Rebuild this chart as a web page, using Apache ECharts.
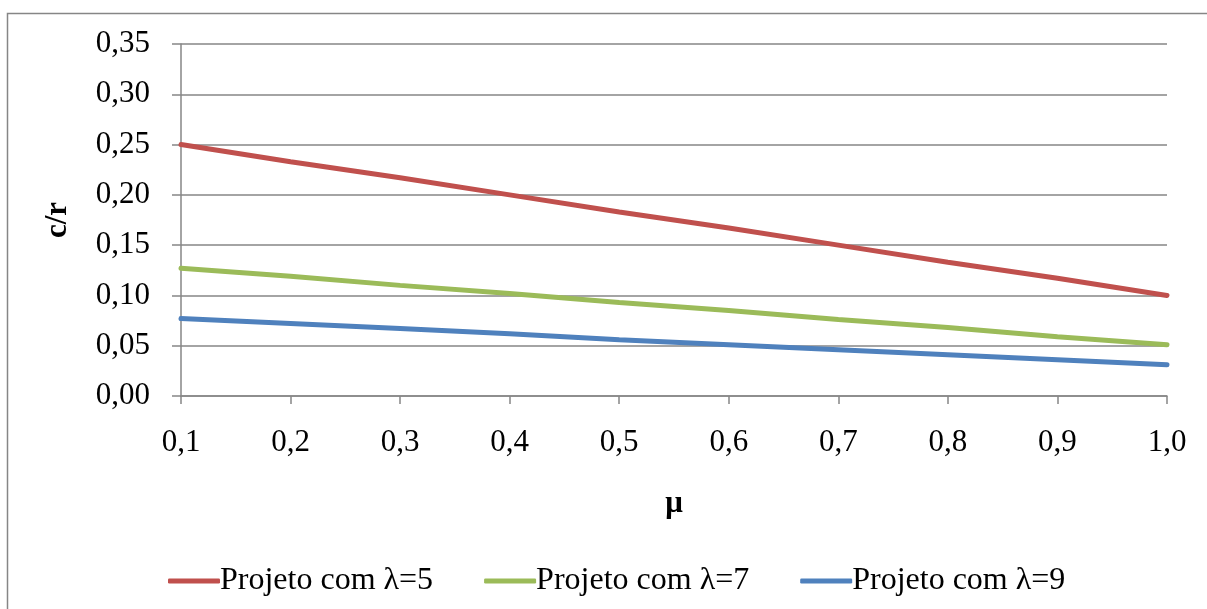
<!DOCTYPE html>
<html><head><meta charset="utf-8">
<script src="https://cdn.jsdelivr.net/npm/echarts@6/dist/echarts.min.js"></script>
<style>html,body{margin:0;padding:0;background:#fff}#c{width:1207px;height:609px}</style>
</head><body><div id="c"></div>
<script>
const categories = ['0,1','0,2','0,3','0,4','0,5','0,6','0,7','0,8','0,9','1,0'];
const lambda5 = [0.250,0.233,0.217,0.200,0.183,0.167,0.150,0.133,0.117,0.100];
const lambda7 = [0.127,0.119,0.110,0.102,0.093,0.085,0.076,0.068,0.059,0.051];
const lambda9 = [0.077,0.072,0.067,0.062,0.056,0.051,0.046,0.041,0.036,0.031];
const seriesNames = ['Projeto com λ=5','Projeto com λ=7','Projeto com λ=9'];
const colors = ['#C0504D','#9BBB59','#4F81BD'];
const font = '"Liberation Serif","Times New Roman",serif';
const chart = echarts.init(document.getElementById('c'));
const mk = (name, data, color) => ({
  name, type:'line', data, symbol:'none', smooth:false,
  lineStyle:{color, width:5, cap:'round'}, itemStyle:{color}
});
chart.setOption({
  animation:false,
  graphic:[{type:'rect', shape:{x:7.5,y:13.5,width:1300,height:700}, style:{fill:'none',stroke:'#868686',lineWidth:1.5}, silent:true}],
  grid:{left:181, right:40, top:44, bottom:213},
  legend:{
    data:seriesNames, left:163, top:560, itemWidth:52, itemHeight:5, itemGap:51,
    icon:'roundRect',
    textStyle:{fontFamily:font, fontSize:32, color:'#000', padding:[0,0,0,-5]}
  },
  xAxis:{
    type:'category', data:categories, boundaryGap:false,
    name:'μ', nameLocation:'middle', nameGap:92,
    nameTextStyle:{fontFamily:font, fontSize:31, fontWeight:'bold', color:'#000'},
    axisLine:{lineStyle:{color:'#868686', width:1.5}},
    axisTick:{show:true, length:8, alignWithLabel:true, lineStyle:{color:'#868686', width:1.5}},
    axisLabel:{fontFamily:font, fontSize:31, color:'#000', margin:31},
    splitLine:{show:false}
  },
  yAxis:{
    type:'value', min:0, max:0.35, interval:0.05,
    name:'c/r', nameLocation:'middle', nameGap:108, nameRotate:90,
    nameTextStyle:{fontFamily:font, fontSize:31, fontWeight:'bold', color:'#000'},
    axisLine:{show:true, lineStyle:{color:'#868686', width:1.5}},
    axisTick:{show:true, length:9, lineStyle:{color:'#868686', width:1.5}},
    axisLabel:{fontFamily:font, fontSize:31, color:'#000', margin:31,
      formatter:v=>v.toFixed(2).replace('.',',')},
    splitLine:{show:true, lineStyle:{color:'#868686', width:1.5}}
  },
  series:[mk(seriesNames[0], lambda5, colors[0]), mk(seriesNames[1], lambda7, colors[1]), mk(seriesNames[2], lambda9, colors[2])]
});
</script></body></html>
